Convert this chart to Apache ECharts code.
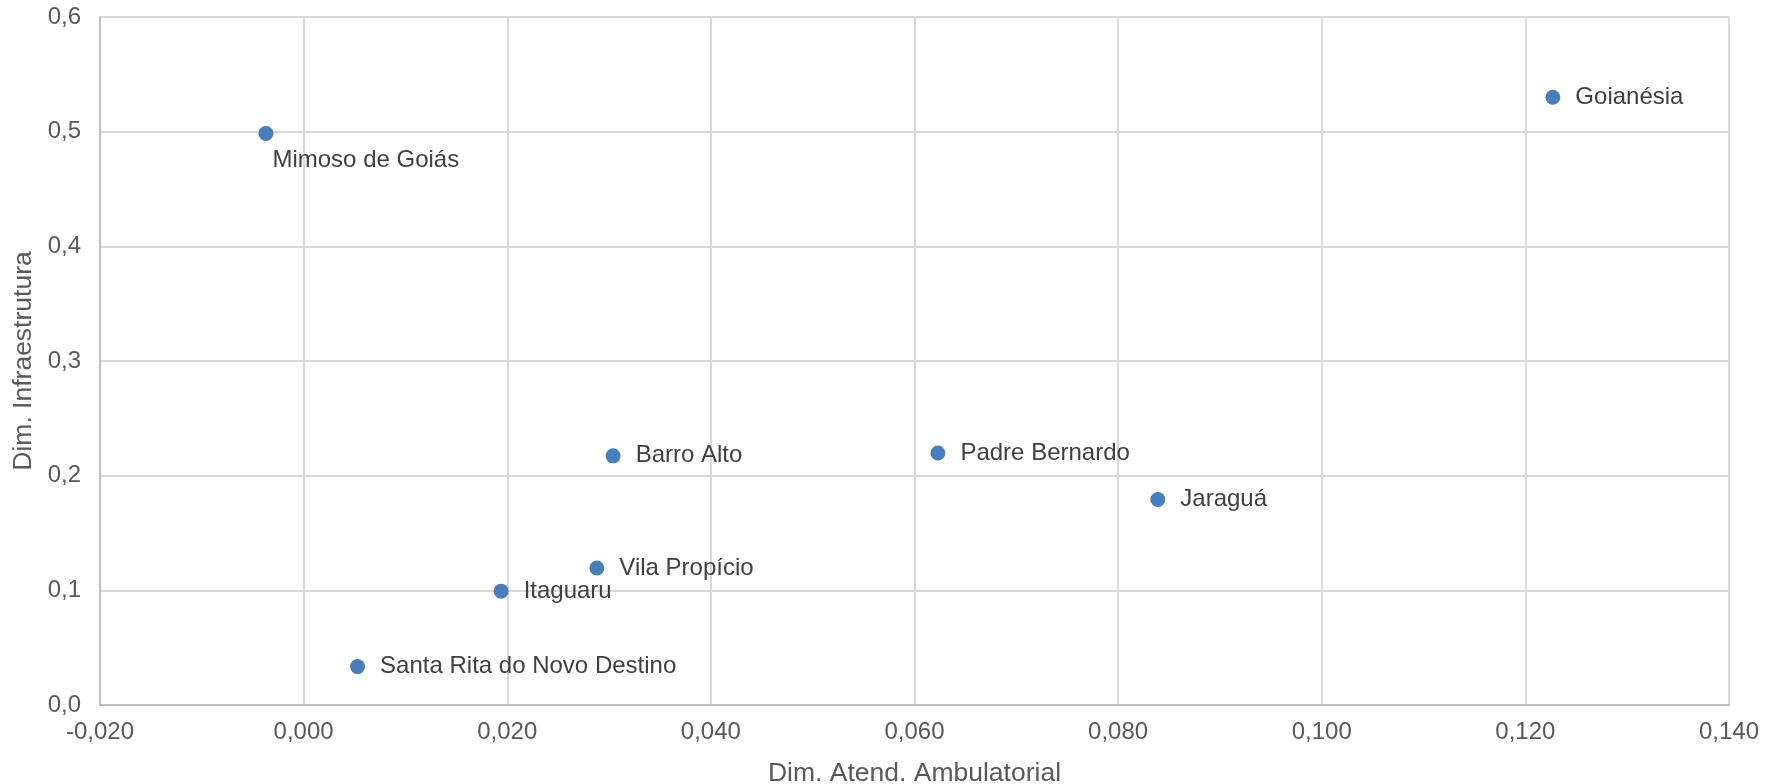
<!DOCTYPE html>
<html>
<head>
<meta charset="utf-8">
<script src="https://cdn.jsdelivr.net/npm/echarts@6/dist/echarts.min.js"></script>
<style>
html,body{margin:0;padding:0;background:#fff;}
#chart{width:1778px;height:784px;}
</style>
</head>
<body>
<div id="chart"></div>
<script>
var names = ["Goianésia","Mimoso de Goiás","Barro Alto","Padre Bernardo","Jaraguá","Vila Propício","Itaguaru","Santa Rita do Novo Destino"];
var xValues = [0.1227, -0.0037, 0.0304, 0.0623, 0.0839, 0.0288, 0.0194, 0.0053];
var yValues = [0.530, 0.4985, 0.2173, 0.2198, 0.1792, 0.1195, 0.0993, 0.0335];
var xTitle = "Dim. Atend. Ambulatorial";
var yTitle = "Dim. Infraestrutura";

var FONT = '"Liberation Sans", Arial, sans-serif';
var data = names.map(function(n, i){
  var item = {name: n, value: [xValues[i], yValues[i]]};
  if (n === "Mimoso de Goiás") {
    item.label = {position: [14, 34], align: 'left', verticalAlign: 'middle'};
  }
  return item;
});

var chart = echarts.init(document.getElementById('chart'), null, {renderer: 'canvas'});
chart.setOption({
  backgroundColor: '#ffffff',
  animation: false,
  grid: {left: 100, right: 49, top: 17, bottom: 79, containLabel: false, outerBoundsMode: 'none'},
  xAxis: {
    type: 'value', min: -0.02, max: 0.14, interval: 0.02,
    name: xTitle, nameLocation: 'middle', nameGap: 55,
    nameTextStyle: {color: '#595959', fontSize: 26.5, fontFamily: FONT},
    axisLine: {show: true, onZero: false, lineStyle: {color: '#bfbfbf', width: 2}},
    axisTick: {show: false},
    splitLine: {show: true, lineStyle: {color: '#d9d9d9', width: 2}},
    axisLabel: {color: '#595959', fontSize: 24, fontFamily: FONT, margin: 15,
      formatter: function(v){ return v.toFixed(3).replace('.', ','); }}
  },
  yAxis: {
    type: 'value', min: 0, max: 0.6, interval: 0.1,
    name: yTitle, nameLocation: 'middle', nameGap: 63,
    nameTextStyle: {color: '#595959', fontSize: 26.5, fontFamily: FONT},
    axisLine: {show: true, onZero: false, lineStyle: {color: '#bfbfbf', width: 2}},
    axisTick: {show: false},
    splitLine: {show: true, lineStyle: {color: '#d9d9d9', width: 2}},
    axisLabel: {color: '#595959', fontSize: 24, fontFamily: FONT, margin: 19,
      formatter: function(v){ return v.toFixed(1).replace('.', ','); }}
  },
  series: [{
    type: 'scatter',
    symbol: 'circle',
    symbolSize: 15,
    itemStyle: {color: '#4a7ebb', opacity: 1},
    label: {
      show: true, position: 'right', distance: 15, padding: [3, 0, 0, 0],
      formatter: '{b}', color: '#404040', fontSize: 24, fontFamily: FONT
    },
    emphasis: {disabled: true},
    data: data
  }]
});
</script>
</body>
</html>
